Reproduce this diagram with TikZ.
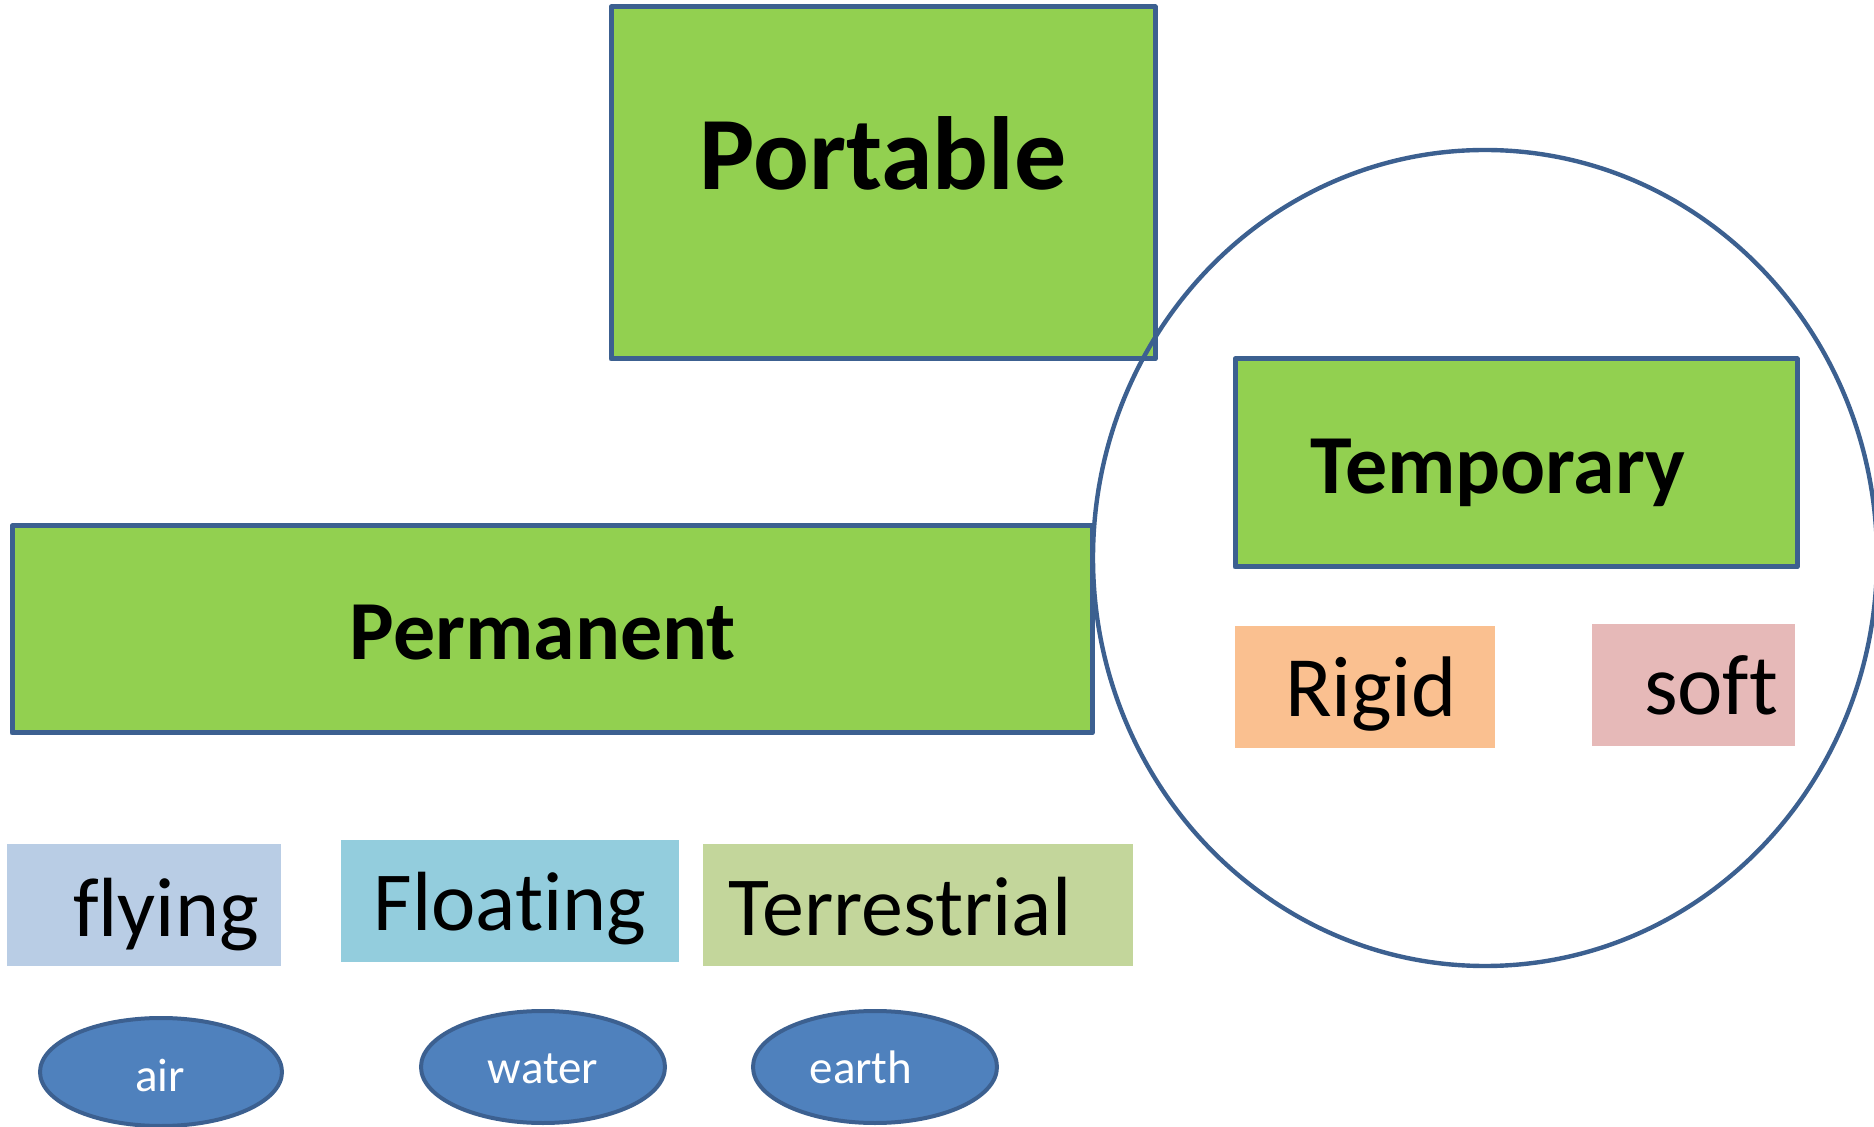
\documentclass[tikz,border=0pt]{standalone}
\usepackage{fontspec}
\setmainfont{Carlito}[Ligatures={NoCommon,NoRequired,NoContextual}]
\usetikzlibrary{fit,shapes.geometric}

\definecolor{leafgreen}{HTML}{92D050}
\definecolor{edgeblue}{HTML}{3C6090}
\definecolor{peach}{HTML}{FAC090}
\definecolor{rose}{HTML}{E6B9B8}
\definecolor{skyblue}{HTML}{B9CDE5}
\definecolor{aqua}{HTML}{93CDDD}
\definecolor{olive}{HTML}{C3D69B}
\definecolor{ballblue}{HTML}{4F81BD}

\tikzset{
  mainbox/.style={rectangle, inner sep=0pt, fill=leafgreen, draw=edgeblue,
                  line width=2.5pt, line join=round},
  tagbox/.style={rectangle, inner sep=0pt, draw=none},
  word/.style={anchor=base, inner sep=0pt, text=black},
  blob/.style={ellipse, inner sep=0pt, fill=ballblue, draw=edgeblue, line width=2pt},
  blobword/.style={anchor=base, inner sep=0pt, text=white, font=\fontsize{23.5}{28}\selectfont},
  ring/.style={draw=edgeblue, line width=2.2pt}
}

\begin{document}
\begin{tikzpicture}[x=0.5pt, y=-0.5pt]
  \useasboundingbox (0,0) rectangle (1874,1127);

  % category boxes
  \node[mainbox, fit={(611,7) (1155,359)}] (portable) {};
  \node[mainbox, fit={(12,526) (1092,733)}] (permanent) {};
  \node[mainbox, fit={(1235,359) (1797,567)}] (temporary) {};

  \node[word, font=\fontsize{52}{60}\bfseries\selectfont] (tportable) at (883,190) {Portable};
  \node[word, font=\fontsize{42}{50}\bfseries\selectfont] (tpermanent) at (543,660) {Permanent};
  \node[word, font=\fontsize{42}{50}\bfseries\selectfont] (ttemporary) at (1498,494) {Temporary};

  % sub-types of temporary
  \node[tagbox, fill=peach, fit={(1235,626) (1495,748)}] (rigid) {};
  \node[tagbox, fill=rose, fit={(1592,624) (1795,746)}] (soft) {};
  \node[word, font=\fontsize{43}{50}\selectfont] (trigid) at (1371,717) {Rigid};
  \node[word, font=\fontsize{43}{50}\selectfont] (tsoft) at (1711,715) {soft};

  % sub-types of permanent
  \node[tagbox, fill=skyblue, fit={(7,844) (281,966)}] (flying) {};
  \node[tagbox, fill=aqua, fit={(341,840) (679,962)}] (floating) {};
  \node[tagbox, fill=olive, fit={(703,844) (1133,966)}] (terrestrial) {};
  \node[word, font=\fontsize{42}{50}\selectfont] (tflying) at (166,936) {flying};
  \node[word, font=\fontsize{42}{50}\selectfont] (tfloating) at (510,930) {Floating};
  \node[word, font=\fontsize{42}{50}\selectfont] (tterrestrial) at (900,935) {Terrestrial};

  % media
  \node[blob, minimum width=121pt, minimum height=54pt] (air) at (161,1072) {};
  \node[blob, minimum width=122pt, minimum height=56pt] (water) at (543,1067) {};
  \node[blob, minimum width=122pt, minimum height=56pt] (earth) at (875,1067) {};
  \node[blobword] (tair) at (160,1091) {air};
  \node[blobword] (twater) at (543,1083) {water};
  \node[blobword] (tearth) at (861,1083) {earth};

  % enclosing ring around the temporary group
  \draw[ring] (1485,558) ellipse [x radius=392, y radius=408];
\end{tikzpicture}
\end{document}
